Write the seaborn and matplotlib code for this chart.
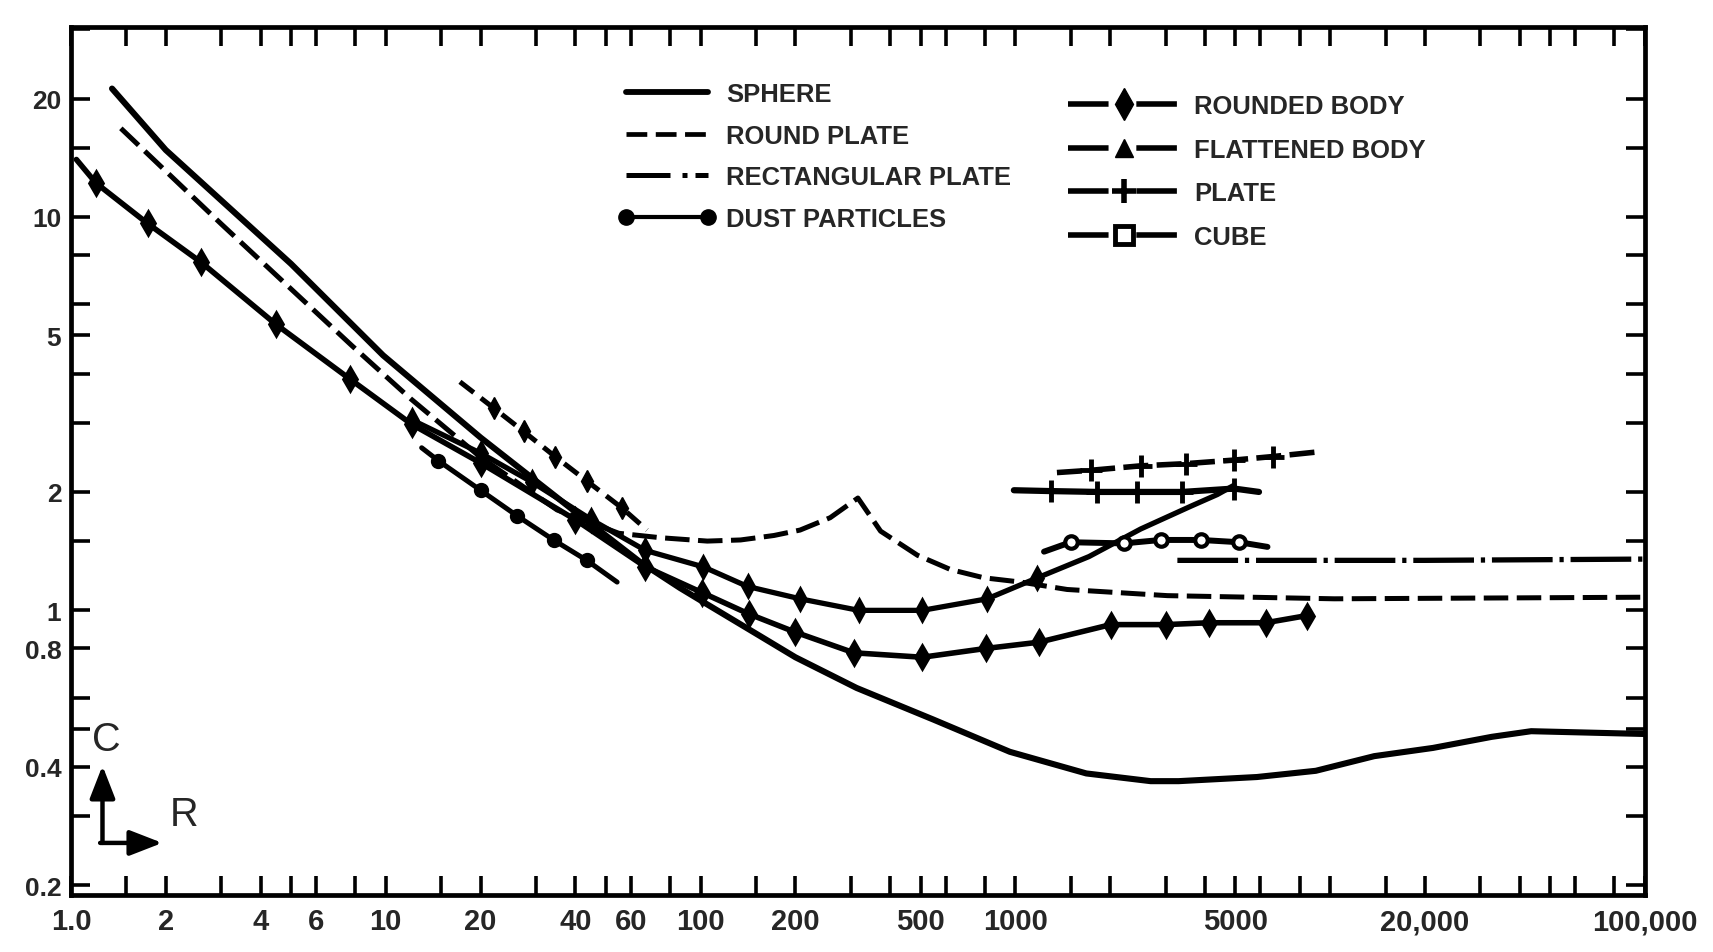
import matplotlib
matplotlib.use("Agg")
import matplotlib.pyplot as plt
from matplotlib.lines import Line2D
from matplotlib import font_manager as fm
from matplotlib.ticker import FixedLocator
import seaborn as sns

# ---------------- data ----------------
sphere_R = [1.35, 2, 5, 9.8, 20, 40, 64, 86, 100, 151, 200, 313, 548, 960, 1680, 2690, 3300,
            5850, 9000, 13800, 21200, 32600, 43500, 100000]
sphere_C = [21.2, 14.8, 7.6, 4.45, 2.75, 1.78, 1.33, 1.14, 1.06, 0.87, 0.76, 0.635, 0.528, 0.437,
            0.385, 0.368, 0.368, 0.377, 0.391, 0.426, 0.447, 0.477, 0.493, 0.485]

roundplate_R = [1.44, 3, 7.8, 12, 20, 35, 55, 74.5, 105, 134, 171, 207, 258, 316, 373, 489, 622,
                794, 1040, 1460, 3040, 10300, 100000]
roundplate_C = [16.8, 9.6, 4.71, 3.45, 2.45, 1.8, 1.57, 1.53, 1.50, 1.51, 1.55, 1.60, 1.72, 1.93,
                1.59, 1.38, 1.27, 1.21, 1.18, 1.13, 1.09, 1.07, 1.08]

rectplate_R = [3270, 20000, 100000]
rectplate_C = [1.34, 1.34, 1.35]

dust_R = [13.0, 14.7, 20, 26.1, 34.1, 43.5, 54.3]
dust_C = [2.59, 2.40, 2.02, 1.74, 1.51, 1.34, 1.18]

rounded_R = [1.04, 1.2, 1.75, 2.59, 4.47, 7.7, 12.1, 20, 40, 66.8, 101, 142, 200, 307, 506, 804,
             1188, 2009, 3000, 4120, 6240, 8440]
rounded_C = [14.0, 12.2, 9.63, 7.67, 5.34, 3.87, 2.97, 2.37, 1.70, 1.29, 1.11, 0.98, 0.88, 0.78,
             0.76, 0.80, 0.83, 0.92, 0.92, 0.93, 0.93, 0.97]

flattened_R = [12.1, 20, 29.1, 45, 66.8, 102, 141, 207, 318, 506, 814, 1175, 1713, 2500, 3610,
               4380, 4950]
flattened_C = [3.05, 2.51, 2.12, 1.70, 1.42, 1.29, 1.15, 1.07, 1.0, 1.0, 1.07, 1.21, 1.37, 1.61,
               1.84, 1.97, 2.08]

plate_low_R = [17.2, 22, 27.4, 34.5, 43.6, 56.3, 67.6]
plate_low_C = [3.81, 3.27, 2.85, 2.46, 2.13, 1.82, 1.60]
plate_top_R = [1355, 1734, 2500, 3475, 4950, 6560, 9220]
plate_top_C = [2.24, 2.27, 2.33, 2.36, 2.41, 2.46, 2.53]
plate_mid_R = [989, 1294, 1820, 2440, 3390, 4950, 5940]
plate_mid_C = [2.02, 2.01, 2.0, 2.0, 2.0, 2.04, 2.0]

cube_R = [1233, 1497, 2213, 2900, 3880, 5140, 6320]
cube_C = [1.41, 1.49, 1.48, 1.51, 1.51, 1.49, 1.45]

legend_left = ["SPHERE", "ROUND PLATE", "RECTANGULAR PLATE", "DUST PARTICLES"]
legend_right = ["ROUNDED BODY", "FLATTENED BODY", "PLATE", "CUBE"]

x_label_vals = [1, 2, 4, 6, 10, 20, 40, 60, 100, 200, 500, 1000, 5000, 20000, 100000]
x_label_txt = ["1.0", "2", "4", "6", "10", "20", "40", "60", "100", "200", "500", "1000",
               "5000", "20,000", "100,000"]
y_label_vals = [0.2, 0.4, 0.8, 1, 2, 5, 10, 20]
y_label_txt = ["0.2", "0.4", "0.8", "1", "2", "5", "10", "20"]
mantissas = [1, 1.5, 2, 3, 4, 5, 6, 8]

# ---------------- style ----------------
sns.set_theme(style="white")
names = {f.name for f in fm.fontManager.ttflist}
HAS_NARROW = "Liberation Sans Narrow" in names
NARROW = ["Liberation Sans Narrow", "DejaVu Sans"] if HAS_NARROW else ["Liberation Sans", "DejaVu Sans"]
NS = 1.0 if HAS_NARROW else 0.84
plt.rcParams["font.family"] = ["Liberation Sans", "DejaVu Sans"]
plt.rcParams["axes.edgecolor"] = "black"

W, H = 1713, 953
fig = plt.figure(figsize=(W / 100, H / 100), dpi=100)
left_px, right_px, top_px, bot_px = 71, 1645, 28, 896
ax = fig.add_axes([left_px / W, 1 - bot_px / H, (right_px - left_px) / W, (bot_px - top_px) / H])
ax.set_xscale("log")
ax.set_yscale("log")
ax.set_xlim(1, 100000)
ax.set_ylim(0.189, 30.4)
ax.set_facecolor("white")

K = "black"


def draw(x, y, lw=4.0, ls="-", marker=None, ms=10, mfc=K, mew=2.0, every=None):
    kw = dict(color=K, linewidth=lw, linestyle=ls)
    if marker is not None:
        kw.update(marker=marker, markersize=ms, markerfacecolor=mfc,
                  markeredgecolor=K, markeredgewidth=mew)
        if every is not None:
            kw["markevery"] = every
    sns.lineplot(x=x, y=y, ax=ax, estimator=None, sort=True, legend=False, **kw)


draw(sphere_R, sphere_C, lw=4.4)
draw(roundplate_R, roundplate_C, lw=3.6, ls=(0, (4.9, 1.7)))
draw(rectplate_R, rectplate_C, lw=3.8, ls=(0, (11.5, 1.3, 0.8, 1.3)))
draw(dust_R, dust_C, lw=3.6, marker="o", ms=9, every=[1, 2, 3, 4, 5])
draw(rounded_R, rounded_C, lw=4.0, marker="d", ms=12, every=list(range(1, len(rounded_R))))
draw(flattened_R, flattened_C, lw=3.8, marker="d", ms=11, every=list(range(0, 12)))
draw(plate_low_R, plate_low_C, lw=3.6, ls=(0, (3.5, 1.8)), marker="d", ms=11, mew=1,
     every=[1, 2, 3, 4, 5])
draw(plate_top_R, plate_top_C, lw=4.0, ls=(0, (4.5, 1.5)), marker="+", ms=16, mew=3.5,
     every=[1, 2, 3, 4, 5])
draw(plate_mid_R, plate_mid_C, lw=4.5, marker="+", ms=16, mew=3.5, every=[1, 2, 3, 4, 5])
draw(cube_R, cube_C, lw=4.3, marker="o", ms=9, mfc="white", mew=3, every=[1, 2, 3, 4, 5])

# ---------------- ticks ----------------
xt = [m * 10 ** d for d in range(0, 5) for m in mantissas] + [100000]
yt = [m * 10 ** d for d in range(-1, 2) for m in mantissas]
yt = [v for v in yt if 0.19 <= v <= 30]
ax.xaxis.set_major_locator(FixedLocator(x_label_vals))
ax.xaxis.set_minor_locator(FixedLocator([v for v in xt if v not in x_label_vals]))
ax.yaxis.set_major_locator(FixedLocator(y_label_vals))
ax.yaxis.set_minor_locator(FixedLocator([v for v in yt if v not in y_label_vals]))
ax.set_xticklabels(x_label_txt)
ax.set_yticklabels(y_label_txt)
ax.xaxis.set_minor_formatter(plt.NullFormatter())
ax.yaxis.set_minor_formatter(plt.NullFormatter())
ax.tick_params(which="both", direction="in", top=True, right=True, bottom=True, left=True,
               length=14, width=2.6, color=K)
ax.tick_params(axis="x", which="major", labelsize=21, pad=9)
ax.tick_params(axis="y", which="major", labelsize=19, pad=7)
for lab in ax.get_xticklabels() + ax.get_yticklabels():
    lab.set_fontweight("bold")
for s in ax.spines.values():
    s.set_linewidth(3.4)
    s.set_color(K)
ax.grid(False)

# ---------------- legends ----------------
FS = 22 * NS
PX = FS * 100 / 72
lh_left = [
    Line2D([], [], color=K, lw=4.2),
    Line2D([], [], color=K, lw=3.4, linestyle=(0, (4.4, 1.8))),
    Line2D([], [], color=K, lw=3.6, linestyle=(0, (8.8, 2.4, 1.0, 1.6))),
    Line2D([], [], color=K, lw=3.0, marker="o", markersize=11, markerfacecolor=K,
           markeredgecolor=K),
]
gap = (0, (7.3, 5.0))
lh_right = [
    Line2D([], [], color=K, lw=4.0, linestyle=gap, marker="d", markersize=16,
           markerfacecolor=K, markeredgecolor=K),
    Line2D([], [], color=K, lw=4.0, linestyle=gap, marker="^", markersize=13,
           markerfacecolor=K, markeredgecolor=K),
    Line2D([], [], color=K, lw=4.0, linestyle=gap, marker="+", markersize=17,
           markeredgewidth=4, markeredgecolor=K),
    Line2D([], [], color=K, lw=4.0, linestyle=gap, marker="s", markersize=13,
           markerfacecolor="white", markeredgecolor=K, markeredgewidth=3.5),
]
prop = dict(family=NARROW, weight="bold", size=FS)
leg1 = fig.legend(lh_left, legend_left, loc="upper left",
                  bbox_to_anchor=(618 / W, 1 - 83 / H), frameon=False, prop=prop,
                  borderpad=0, borderaxespad=0, handlelength=98 / PX,
                  handletextpad=10 / PX, labelspacing=0.69, numpoints=2)
leg2 = fig.legend(lh_right, legend_right, loc="upper left",
                  bbox_to_anchor=(1068 / W, 1 - 95 / H), frameon=False, prop=prop,
                  borderpad=0, borderaxespad=0, handlelength=112 / PX,
                  handletextpad=14 / PX, labelspacing=0.76, numpoints=1)

# ---------------- C / R axis symbol ----------------
arrow = dict(arrowstyle="-|>,head_length=0.9,head_width=0.35", lw=3.2, color=K,
             shrinkA=0, shrinkB=0, mutation_scale=22)
dy = 0.018
ax.annotate("", xy=(0.020, 0.131 + dy), xytext=(0.020, 0.042 + dy), xycoords="axes fraction",
            arrowprops=arrow)
ax.annotate("", xy=(0.058, 0.042 + dy), xytext=(0.0185, 0.042 + dy), xycoords="axes fraction",
            arrowprops=arrow)
ax.text(0.0225, 0.162 + dy, "C", transform=ax.transAxes, ha="center", va="center",
        fontsize=34 * NS, family=NARROW)
ax.text(0.072, 0.075 + dy, "R", transform=ax.transAxes, ha="center", va="center",
        fontsize=34 * NS, family=NARROW)

fig.savefig("out.png", dpi=100, facecolor="white")
